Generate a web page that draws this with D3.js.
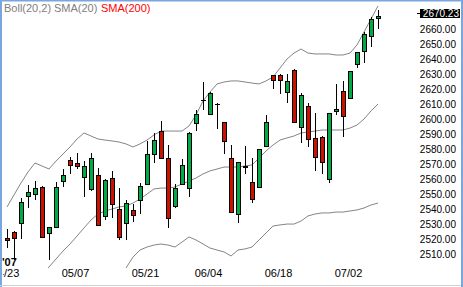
<!DOCTYPE html>
<html>
<head>
<meta charset="utf-8">
<script src="https://cdn.jsdelivr.net/npm/d3@7"></script>
<style>
body { margin: 0; background: #fff; }
svg { display: block; font-family: "Liberation Sans", Arial, sans-serif; }
</style>
</head>
<body>
<svg id="mainSVG"></svg>
<script>
// trading days, 2007
var dates = ["04/23","04/24","04/25","04/26","04/27","04/30","05/01","05/02","05/03","05/04",
    "05/07","05/08","05/09","05/10","05/11","05/14","05/15","05/16","05/17","05/18",
    "05/21","05/22","05/23","05/24","05/25","05/29","05/30","05/31","06/01","06/04",
    "06/05","06/06","06/07","06/08","06/11","06/12","06/13","06/14","06/15","06/18",
    "06/19","06/20","06/21","06/22","06/25","06/26","06/27","06/28","06/29","07/02",
    "07/03","07/05","07/06","07/09"];

var openP = [2522.2,2525.8,2531.8,2549.8,2551.3,2555.8,2525.1,2529.5,2559.8,2573.8,
    2572.0,2562.5,2554.5,2563.8,2536.5,2562.0,2541.1,2531.8,2540.5,2547.1,
    2557.8,2577.8,2593.1,2575.1,2543.5,2557.8,2555.1,2598.5,2613.9,2604.5,
    2611.1,2599.1,2575.1,2537.8,2569.1,2559.1,2556.2,2583.3,2630.7,2630.9,
    2619.1,2634.0,2595.8,2609.8,2588.7,2589.3,2561.1,2606.5,2620.0,2615.3,
    2637.8,2646.9,2656.5,2668.6];
var highP = [2528.0,2526.5,2548.7,2557.3,2560.2,2556.7,2529.5,2559.5,2568.2,2575.8,
    2578.7,2573.1,2578.9,2568.9,2561.3,2566.7,2555.1,2547.3,2544.7,2558.9,
    2586.7,2592.2,2600.0,2584.0,2558.0,2574.7,2592.5,2607.3,2626.0,2619.2,
    2612.2,2599.5,2583.8,2573.0,2583.3,2575.1,2581.5,2604.0,2631.0,2631.2,
    2631.3,2634.5,2618.5,2611.8,2605.3,2589.8,2605.5,2624.9,2626.9,2633.6,
    2646.3,2659.1,2669.1,2674.0];
var lowP = [2515.3,2507.3,2521.1,2542.0,2547.3,2522.0,2507.3,2529.1,2556.2,2564.7,
    2567.8,2549.1,2553.5,2530.2,2534.0,2535.1,2520.7,2520.7,2532.7,2538.0,
    2557.2,2572.2,2574.7,2528.5,2542.2,2557.2,2549.5,2593.5,2607.3,2604.0,
    2594.5,2577.8,2538.6,2532.2,2564.5,2545.5,2555.1,2582.8,2621.3,2617.8,
    2612.2,2598.6,2585.1,2582.5,2566.9,2564.7,2558.5,2604.2,2589.1,2614.7,
    2635.5,2638.5,2649.5,2661.3];
var closeP = [2520.7,2521.8,2545.8,2552.5,2555.1,2522.5,2529.1,2555.8,2563.8,2570.5,
    2570.2,2570.2,2575.1,2530.7,2560.5,2544.5,2522.5,2545.1,2537.1,2556.5,
    2577.8,2587.1,2575.5,2535.1,2555.1,2570.5,2591.8,2604.5,2614.1,2618.5,
    2611.1,2586.5,2539.1,2572.5,2570.0,2547.8,2581.1,2599.1,2627.3,2627.3,
    2627.0,2599.1,2617.1,2587.8,2575.8,2572.9,2605.1,2608.0,2603.1,2633.3,
    2646.0,2658.2,2668.0,2670.23];

// Bollinger(20,2) lines, null where off the plot
var bollUpper = [2542.7,2550.7,2558.7,2566.0,2572.0,2570.0,2568.0,2573.3,2578.0,2582.7,
    2588.0,2592.0,2590.0,2588.0,2587.3,2586.7,2586.0,2584.7,2582.7,2584.7,
    2587.3,2590.7,2593.3,2593.3,2593.3,2593.3,2596.7,2604.0,2613.3,2619.3,
    2624.7,2626.0,2626.7,2626.7,2626.0,2625.3,2624.7,2626.7,2629.3,2635.3,
    2641.3,2645.3,2648.0,2645.3,2644.7,2644.7,2644.7,2644.0,2644.0,2645.3,
    2650.7,2659.3,2668.0,2676.7];
var sma20 = [null,null,null,null,null,2497.0,2502.7,2508.0,2513.3,2518.0,
    2523.3,2528.7,2534.0,2538.0,2540.0,2541.3,2542.7,2543.3,2545.3,2548.0,
    2551.3,2554.7,2555.3,2555.3,2556.0,2558.0,2560.0,2562.0,2564.7,2566.7,
    2568.0,2569.3,2569.3,2569.3,2570.0,2570.7,2575.3,2580.0,2584.0,2587.3,
    2588.7,2590.0,2592.0,2592.7,2593.3,2594.0,2594.0,2594.0,2594.0,2595.3,
    2597.3,2601.3,2606.7,2611.3];
var bollLower = [null,null,null,null,null,null,null,null,null,null,
    null,null,null,null,null,null,2496.0,2502.0,2509.3,2514.0,
    2516.0,2517.3,2518.0,2517.3,2516.0,2519.3,2522.7,2520.7,2518.0,2515.3,
    2514.0,2512.7,2510.0,2514.0,2514.7,2516.0,2520.7,2525.3,2530.0,2530.7,
    2531.3,2531.3,2533.3,2536.7,2538.0,2538.7,2538.7,2539.3,2539.3,2540.0,
    2540.7,2542.0,2544.0,2545.3];

var priceTicks = [2510,2520,2530,2540,2550,2560,2570,2580,2590,2600,2610,2620,2630,2640,2650,2660];
var dateTicks = ["04/23","05/07","05/21","06/04","06/18","07/02"];
var legendItems = ["Boll(20,2)", "SMA(20)", "SMA(200)"];
var lastPrice = 2670.23;

var width = 463, height = 287;
var plot = { left: 3, top: 3, right: 418, bottom: 268 };

var svg = d3.select("#mainSVG")
    .attr("width", width)
    .attr("height", height);

var x = d3.scalePoint()
    .domain(dates)
    .range([7, 378]);

// 2660 sits at y=31, 1.5px per point
var y = d3.scaleLinear()
    .domain([2510, 2660])
    .range([256, 31]);

svg.append("defs").append("clipPath")
    .attr("id", "plotClip")
    .append("rect")
    .attr("x", plot.left)
    .attr("y", plot.top)
    .attr("width", plot.right - plot.left)
    .attr("height", plot.bottom - plot.top);

svg.select("defs").append("clipPath")
    .attr("id", "leftClip")
    .append("rect")
    .attr("x", plot.left)
    .attr("y", 0)
    .attr("width", width)
    .attr("height", height);

var g = svg.append("g").attr("clip-path", "url(#plotClip)");

// bands
function drawBand(values) {
    var line = d3.line()
        .defined(function(d) { return d != null; })
        .x(function(d, i) { return x(dates[i]); })
        .y(function(d) { return y(d); });
    g.append("path")
        .datum(values)
        .attr("d", line)
        .attr("fill", "none")
        .attr("stroke", "#858585")
        .attr("stroke-width", 1);
}
drawBand(bollUpper);
drawBand(sma20);
drawBand(bollLower);

// candles
var idx = d3.range(dates.length);
var candles = g.append("g").selectAll("g")
    .data(idx)
    .enter()
    .append("g");

candles.append("line")
    .attr("x1", function(i) { return Math.round(x(dates[i])) + 0.5; })
    .attr("x2", function(i) { return Math.round(x(dates[i])) + 0.5; })
    .attr("y1", function(i) { return Math.round(y(highP[i])); })
    .attr("y2", function(i) { return Math.round(y(lowP[i])); })
    .attr("stroke", "#000")
    .attr("stroke-width", 1);

candles.append("rect")
    .attr("x", function(i) { return Math.round(x(dates[i])) - 1.5; })
    .attr("y", function(i) { return Math.round(y(Math.max(openP[i], closeP[i]))) + 0.5; })
    .attr("width", 4)
    .attr("height", function(i) {
        var h = Math.round(y(Math.min(openP[i], closeP[i]))) - Math.round(y(Math.max(openP[i], closeP[i])));
        return Math.max(h, 0.01);
    })
    .attr("fill", function(i) { return closeP[i] >= openP[i] ? "#00aa44" : "#cc1100"; })
    .attr("stroke", "#000")
    .attr("stroke-width", 1);

// price axis on the right
svg.append("g").selectAll("text")
    .data(priceTicks)
    .enter()
    .append("text")
    .attr("x", 456)
    .attr("y", function(d) { return y(d) - 1.5; })
    .attr("dy", "0.35em")
    .attr("text-anchor", "end")
    .attr("font-size", "10px")
    .attr("fill", "#000")
    .text(function(d) { return d.toFixed(2); });

// last price marker
var yLast = y(lastPrice) - 2.5;
svg.append("line")
    .attr("x1", 417).attr("x2", 420)
    .attr("y1", Math.round(yLast) + 0.5).attr("y2", Math.round(yLast) + 0.5)
    .attr("stroke", "#000");
svg.append("rect")
    .attr("x", 420)
    .attr("y", Math.round(yLast) - 4)
    .attr("width", 40)
    .attr("height", 9)
    .attr("fill", "#000");
svg.append("text")
    .attr("x", 459)
    .attr("y", yLast)
    .attr("dy", "0.38em")
    .attr("text-anchor", "end")
    .attr("font-size", "10px")
    .attr("fill", "#fff")
    .text(lastPrice.toFixed(2));

// date labels
svg.append("g")
    .attr("clip-path", "url(#leftClip)")
    .selectAll("text")
    .data(dateTicks)
    .enter()
    .append("text")
    .attr("x", function(d) { return x(d) - 1.5; })
    .attr("y", 277)
    .attr("text-anchor", "middle")
    .attr("font-size", "11px")
    .attr("fill", "#000")
    .text(function(d) { return d; });

svg.append("text")
    .attr("x", 2)
    .attr("y", 266)
    .attr("font-size", "11px")
    .attr("font-weight", "bold")
    .attr("fill", "#000")
    .text("'07");

// legend
var legendX = [4, 54, 101];
var legendColor = ["#808080", "#808080", "#ff0000"];
svg.append("g").selectAll("text")
    .data(legendItems)
    .enter()
    .append("text")
    .attr("x", function(d, i) { return legendX[i]; })
    .attr("y", 12)
    .attr("font-size", "11px")
    .attr("fill", function(d, i) { return legendColor[i]; })
    .text(function(d) { return d; });

// window frame
svg.append("rect").attr("x", 0).attr("y", 0).attr("width", 2).attr("height", height).attr("fill", "#7aa6e0");
svg.append("rect").attr("x", 0).attr("y", 0).attr("width", width).attr("height", 1.5).attr("fill", "#7aa6e0");
svg.append("rect").attr("x", 461).attr("y", 0).attr("width", 2).attr("height", height).attr("fill", "#7aa6e0");
svg.append("line")
    .attr("x1", 0).attr("x2", 461)
    .attr("y1", 285.5).attr("y2", 285.5)
    .attr("stroke", "#d0d0d0");
</script>
</body>
</html>
